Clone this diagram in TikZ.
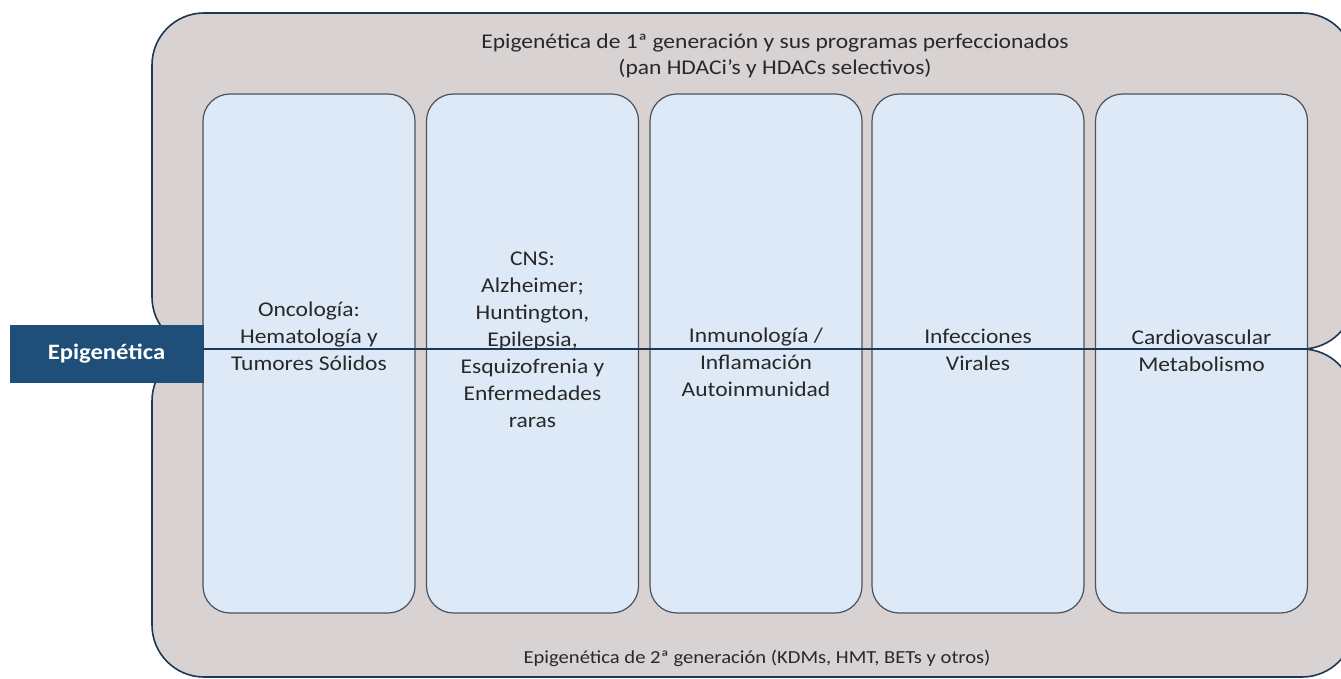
\documentclass[tikz,border=0pt]{standalone}
\usepackage{fontspec}
\setmainfont{Carlito}[FakeStretch=1.12]
\usepackage{tikz}
\usetikzlibrary{positioning}
\definecolor{grisfondo}{RGB}{217,210,210}
\definecolor{azulclaro}{RGB}{221,233,246}
\definecolor{azuloscuro}{RGB}{31,78,121}
\definecolor{bordeazul}{RGB}{30,55,85}
\definecolor{bordegris}{RGB}{75,82,92}
\definecolor{textogris}{RGB}{40,40,40}
\tikzset{
    genbox/.style = {draw=bordeazul, line width=1.6pt, fill=grisfondo, rounded corners=52pt},
    areanode/.style = {draw=bordegris, line width=1.2pt, fill=azulclaro, rounded corners=27pt, minimum width=212pt, minimum height=519pt},
    epinode/.style = {fill=azuloscuro, draw=azuloscuro, minimum width=193pt, minimum height=57pt, text=white, font=\fontsize{22}{26}\selectfont\bfseries},
    textonode/.style = {align=center, text=textogris, font=\fontsize{21}{27}\selectfont},
    titulonode/.style = {align=center, text=textogris, font=\fontsize{21}{25.5}\selectfont},
    edgen/.style = {-, line width=1.6pt, bordeazul}
}
\begin{document}
\begin{tikzpicture}[x=1pt,y=-1pt]
\useasboundingbox (0,0) rectangle (1341,679);
% dos generaciones
\draw[genbox] (152,13) rectangle (1354,349);
\draw[genbox] (152,349) rectangle (1354,677);
\node[titulonode] at (775,56) (gen1) {Epigenética de 1ª generación y sus programas perfeccionados\\(pan HDACi’s y HDACs selectivos)};
\node[titulonode, font=\fontsize{18.4}{22}\selectfont] at (757,658) (gen2) {Epigenética de 2ª generación (KDMs, HMT, BETs y otros)};
%
\node[areanode] at (309,353.5) (a1) {};
\node[areanode] at (532.5,353.5) (a2) {};
\node[areanode] at (756,353.5) (a3) {};
\node[areanode] at (978,353.5) (a4) {};
\node[areanode] at (1201.5,353.5) (a5) {};
%
\node[epinode] at (106.5,353.5) (epi) {Epigenética};
\coordinate (fin) at (1308,349);
\draw[edgen] (epi.east |- fin) -- (fin);
%
\node[textonode] at (309,336) (t1) {Oncología:\\Hematología y\\Tumores Sólidos};
\node[textonode] at (532.5,340) (t2) {CNS:\\Alzheimer;\\Huntington,\\Epilepsia,\\Esquizofrenia y\\Enfermedades\\raras};
\node[textonode] at (756,362) (t3) {Inmunología /\\Inflamación\\Autoinmunidad};
\node[textonode] at (978,350) (t4) {Infecciones\\Virales};
\node[textonode] at (1201.5,351) (t5) {Cardiovascular\\Metabolismo};
\end{tikzpicture}
\end{document}
